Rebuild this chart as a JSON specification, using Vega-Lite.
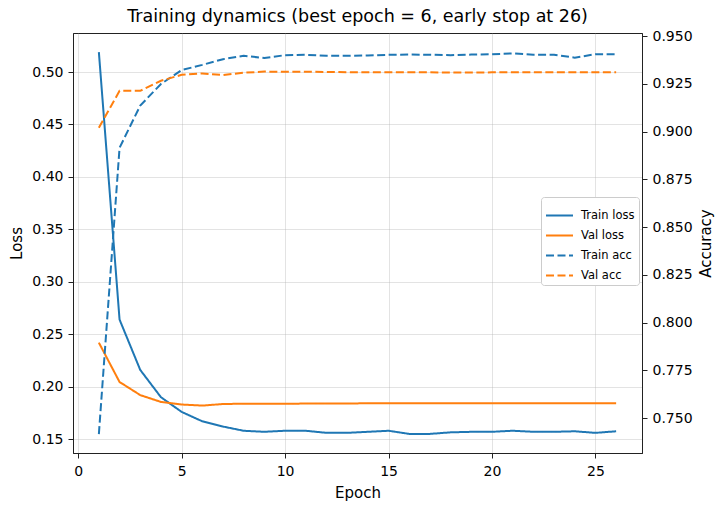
{
  "$schema": "https://vega.github.io/schema/vega-lite/v6.json",
  "autosize": {"type": "none"},
  "padding": {"left": 73, "top": 33, "right": 73, "bottom": 55},
  "width": 569,
  "height": 420,
  "title": {"text": "Training dynamics (best epoch = 6, early stop at 26)", "font": "DejaVu Sans", "fontSize": 17.5, "fontWeight": "normal", "color": "#000", "offset": 4, "anchor": "middle"},
  "config": {
    "view": {"stroke": "#222", "strokeWidth": 1},
    "axis": {"labelFont": "DejaVu Sans", "titleFont": "DejaVu Sans", "labelFontSize": 14, "titleFontSize": 15, "titleFontWeight": "normal", "labelColor": "#000", "titleColor": "#000", "tickColor": "#222", "domainColor": "#222", "tickSize": 5, "labelPadding": 5, "gridColor": "#b0b0b0", "gridOpacity": 0.35},
    "legend": {"orient": "none", "legendX": 468, "legendY": 164, "title": null, "labelFont": "DejaVu Sans", "labelFontSize": 11.5, "labelColor": "#000", "symbolType": "stroke", "symbolSize": 729, "symbolStrokeWidth": 2, "padding": 4, "rowPadding": -1, "strokeColor": "#cccccc", "fillColor": "#ffffff", "cornerRadius": 3, "labelOffset": 7}
  },
  "data": {"values": [
    {"epoch": 1, "series": "Train loss", "kind": "loss", "value": 0.519},
    {"epoch": 2, "series": "Train loss", "kind": "loss", "value": 0.264},
    {"epoch": 3, "series": "Train loss", "kind": "loss", "value": 0.216},
    {"epoch": 4, "series": "Train loss", "kind": "loss", "value": 0.190},
    {"epoch": 5, "series": "Train loss", "kind": "loss", "value": 0.176},
    {"epoch": 6, "series": "Train loss", "kind": "loss", "value": 0.167},
    {"epoch": 7, "series": "Train loss", "kind": "loss", "value": 0.162},
    {"epoch": 8, "series": "Train loss", "kind": "loss", "value": 0.158},
    {"epoch": 9, "series": "Train loss", "kind": "loss", "value": 0.157},
    {"epoch": 10, "series": "Train loss", "kind": "loss", "value": 0.158},
    {"epoch": 11, "series": "Train loss", "kind": "loss", "value": 0.158},
    {"epoch": 12, "series": "Train loss", "kind": "loss", "value": 0.156},
    {"epoch": 13, "series": "Train loss", "kind": "loss", "value": 0.156},
    {"epoch": 14, "series": "Train loss", "kind": "loss", "value": 0.157},
    {"epoch": 15, "series": "Train loss", "kind": "loss", "value": 0.158},
    {"epoch": 16, "series": "Train loss", "kind": "loss", "value": 0.155},
    {"epoch": 17, "series": "Train loss", "kind": "loss", "value": 0.155},
    {"epoch": 18, "series": "Train loss", "kind": "loss", "value": 0.1565},
    {"epoch": 19, "series": "Train loss", "kind": "loss", "value": 0.157},
    {"epoch": 20, "series": "Train loss", "kind": "loss", "value": 0.157},
    {"epoch": 21, "series": "Train loss", "kind": "loss", "value": 0.158},
    {"epoch": 22, "series": "Train loss", "kind": "loss", "value": 0.157},
    {"epoch": 23, "series": "Train loss", "kind": "loss", "value": 0.157},
    {"epoch": 24, "series": "Train loss", "kind": "loss", "value": 0.1575},
    {"epoch": 25, "series": "Train loss", "kind": "loss", "value": 0.156},
    {"epoch": 26, "series": "Train loss", "kind": "loss", "value": 0.1575},
    {"epoch": 1, "series": "Val loss", "kind": "loss", "value": 0.242},
    {"epoch": 2, "series": "Val loss", "kind": "loss", "value": 0.2045},
    {"epoch": 3, "series": "Val loss", "kind": "loss", "value": 0.192},
    {"epoch": 4, "series": "Val loss", "kind": "loss", "value": 0.1855},
    {"epoch": 5, "series": "Val loss", "kind": "loss", "value": 0.183},
    {"epoch": 6, "series": "Val loss", "kind": "loss", "value": 0.182},
    {"epoch": 7, "series": "Val loss", "kind": "loss", "value": 0.1835},
    {"epoch": 8, "series": "Val loss", "kind": "loss", "value": 0.1838},
    {"epoch": 9, "series": "Val loss", "kind": "loss", "value": 0.1838},
    {"epoch": 10, "series": "Val loss", "kind": "loss", "value": 0.1838},
    {"epoch": 11, "series": "Val loss", "kind": "loss", "value": 0.1839},
    {"epoch": 12, "series": "Val loss", "kind": "loss", "value": 0.184},
    {"epoch": 13, "series": "Val loss", "kind": "loss", "value": 0.184},
    {"epoch": 14, "series": "Val loss", "kind": "loss", "value": 0.1842},
    {"epoch": 15, "series": "Val loss", "kind": "loss", "value": 0.1842},
    {"epoch": 16, "series": "Val loss", "kind": "loss", "value": 0.1842},
    {"epoch": 17, "series": "Val loss", "kind": "loss", "value": 0.1842},
    {"epoch": 18, "series": "Val loss", "kind": "loss", "value": 0.1842},
    {"epoch": 19, "series": "Val loss", "kind": "loss", "value": 0.1842},
    {"epoch": 20, "series": "Val loss", "kind": "loss", "value": 0.1842},
    {"epoch": 21, "series": "Val loss", "kind": "loss", "value": 0.1842},
    {"epoch": 22, "series": "Val loss", "kind": "loss", "value": 0.1842},
    {"epoch": 23, "series": "Val loss", "kind": "loss", "value": 0.1842},
    {"epoch": 24, "series": "Val loss", "kind": "loss", "value": 0.1842},
    {"epoch": 25, "series": "Val loss", "kind": "loss", "value": 0.1842},
    {"epoch": 26, "series": "Val loss", "kind": "loss", "value": 0.1842},
    {"epoch": 1, "series": "Train acc", "kind": "acc", "value": 0.7416},
    {"epoch": 2, "series": "Train acc", "kind": "acc", "value": 0.8915},
    {"epoch": 3, "series": "Train acc", "kind": "acc", "value": 0.9136},
    {"epoch": 4, "series": "Train acc", "kind": "acc", "value": 0.9249},
    {"epoch": 5, "series": "Train acc", "kind": "acc", "value": 0.9322},
    {"epoch": 6, "series": "Train acc", "kind": "acc", "value": 0.9349},
    {"epoch": 7, "series": "Train acc", "kind": "acc", "value": 0.9379},
    {"epoch": 8, "series": "Train acc", "kind": "acc", "value": 0.9397},
    {"epoch": 9, "series": "Train acc", "kind": "acc", "value": 0.9385},
    {"epoch": 10, "series": "Train acc", "kind": "acc", "value": 0.9400},
    {"epoch": 11, "series": "Train acc", "kind": "acc", "value": 0.9402},
    {"epoch": 12, "series": "Train acc", "kind": "acc", "value": 0.9397},
    {"epoch": 13, "series": "Train acc", "kind": "acc", "value": 0.9397},
    {"epoch": 14, "series": "Train acc", "kind": "acc", "value": 0.9398},
    {"epoch": 15, "series": "Train acc", "kind": "acc", "value": 0.9402},
    {"epoch": 16, "series": "Train acc", "kind": "acc", "value": 0.9403},
    {"epoch": 17, "series": "Train acc", "kind": "acc", "value": 0.9402},
    {"epoch": 18, "series": "Train acc", "kind": "acc", "value": 0.9400},
    {"epoch": 19, "series": "Train acc", "kind": "acc", "value": 0.9403},
    {"epoch": 20, "series": "Train acc", "kind": "acc", "value": 0.9405},
    {"epoch": 21, "series": "Train acc", "kind": "acc", "value": 0.9409},
    {"epoch": 22, "series": "Train acc", "kind": "acc", "value": 0.9402},
    {"epoch": 23, "series": "Train acc", "kind": "acc", "value": 0.9402},
    {"epoch": 24, "series": "Train acc", "kind": "acc", "value": 0.9387},
    {"epoch": 25, "series": "Train acc", "kind": "acc", "value": 0.9405},
    {"epoch": 26, "series": "Train acc", "kind": "acc", "value": 0.9405},
    {"epoch": 1, "series": "Val acc", "kind": "acc", "value": 0.9020},
    {"epoch": 2, "series": "Val acc", "kind": "acc", "value": 0.9213},
    {"epoch": 3, "series": "Val acc", "kind": "acc", "value": 0.9213},
    {"epoch": 4, "series": "Val acc", "kind": "acc", "value": 0.9266},
    {"epoch": 5, "series": "Val acc", "kind": "acc", "value": 0.9297},
    {"epoch": 6, "series": "Val acc", "kind": "acc", "value": 0.9304},
    {"epoch": 7, "series": "Val acc", "kind": "acc", "value": 0.9296},
    {"epoch": 8, "series": "Val acc", "kind": "acc", "value": 0.9308},
    {"epoch": 9, "series": "Val acc", "kind": "acc", "value": 0.9314},
    {"epoch": 10, "series": "Val acc", "kind": "acc", "value": 0.9313},
    {"epoch": 11, "series": "Val acc", "kind": "acc", "value": 0.9313},
    {"epoch": 12, "series": "Val acc", "kind": "acc", "value": 0.9312},
    {"epoch": 13, "series": "Val acc", "kind": "acc", "value": 0.9311},
    {"epoch": 14, "series": "Val acc", "kind": "acc", "value": 0.9311},
    {"epoch": 15, "series": "Val acc", "kind": "acc", "value": 0.9310},
    {"epoch": 16, "series": "Val acc", "kind": "acc", "value": 0.9310},
    {"epoch": 17, "series": "Val acc", "kind": "acc", "value": 0.9310},
    {"epoch": 18, "series": "Val acc", "kind": "acc", "value": 0.9309},
    {"epoch": 19, "series": "Val acc", "kind": "acc", "value": 0.9309},
    {"epoch": 20, "series": "Val acc", "kind": "acc", "value": 0.9310},
    {"epoch": 21, "series": "Val acc", "kind": "acc", "value": 0.9310},
    {"epoch": 22, "series": "Val acc", "kind": "acc", "value": 0.9310},
    {"epoch": 23, "series": "Val acc", "kind": "acc", "value": 0.9310},
    {"epoch": 24, "series": "Val acc", "kind": "acc", "value": 0.9310},
    {"epoch": 25, "series": "Val acc", "kind": "acc", "value": 0.9310},
    {"epoch": 26, "series": "Val acc", "kind": "acc", "value": 0.9310}
  ]},
  "encoding": {
    "x": {"field": "epoch", "type": "quantitative", "title": "Epoch",
      "scale": {"domain": [-0.25, 27.25], "nice": false, "zero": false},
      "axis": {"values": [0, 5, 10, 15, 20, 25], "format": "d", "grid": true, "labelPadding": 6, "titlePadding": 7}},
    "color": {"field": "series", "type": "nominal",
      "scale": {"domain": ["Train loss", "Val loss", "Train acc", "Val acc"], "range": ["#1f77b4", "#ff7f0e", "#1f77b4", "#ff7f0e"]}},
    "strokeDash": {"field": "series", "type": "nominal",
      "scale": {"domain": ["Train loss", "Val loss", "Train acc", "Val acc"], "range": [[1, 0], [1, 0], [8, 3.5], [8, 3.5]]}}
  },
  "layer": [
    {
      "transform": [{"filter": "datum.kind === 'loss'"}],
      "mark": {"type": "line", "strokeWidth": 2},
      "encoding": {
        "y": {"field": "value", "type": "quantitative", "title": "Loss",
          "scale": {"domain": [0.1368, 0.5372], "nice": false, "zero": false},
          "axis": {"orient": "left", "values": [0.15, 0.2, 0.25, 0.3, 0.35, 0.4, 0.45, 0.5], "format": ".2f", "grid": true, "titlePadding": 7}}
      }
    },
    {
      "transform": [{"filter": "datum.kind === 'acc'"}],
      "mark": {"type": "line", "strokeWidth": 2},
      "encoding": {
        "y": {"field": "value", "type": "quantitative", "title": "Accuracy",
          "scale": {"domain": [0.7317, 0.9516], "nice": false, "zero": false},
          "axis": {"orient": "right", "values": [0.75, 0.775, 0.8, 0.825, 0.85, 0.875, 0.9, 0.925, 0.95], "format": ".3f", "grid": false, "titleAngle": 270, "titleBaseline": "top", "titlePadding": 6}}
      }
    }
  ],
  "resolve": {"scale": {"y": "independent"}}
}
